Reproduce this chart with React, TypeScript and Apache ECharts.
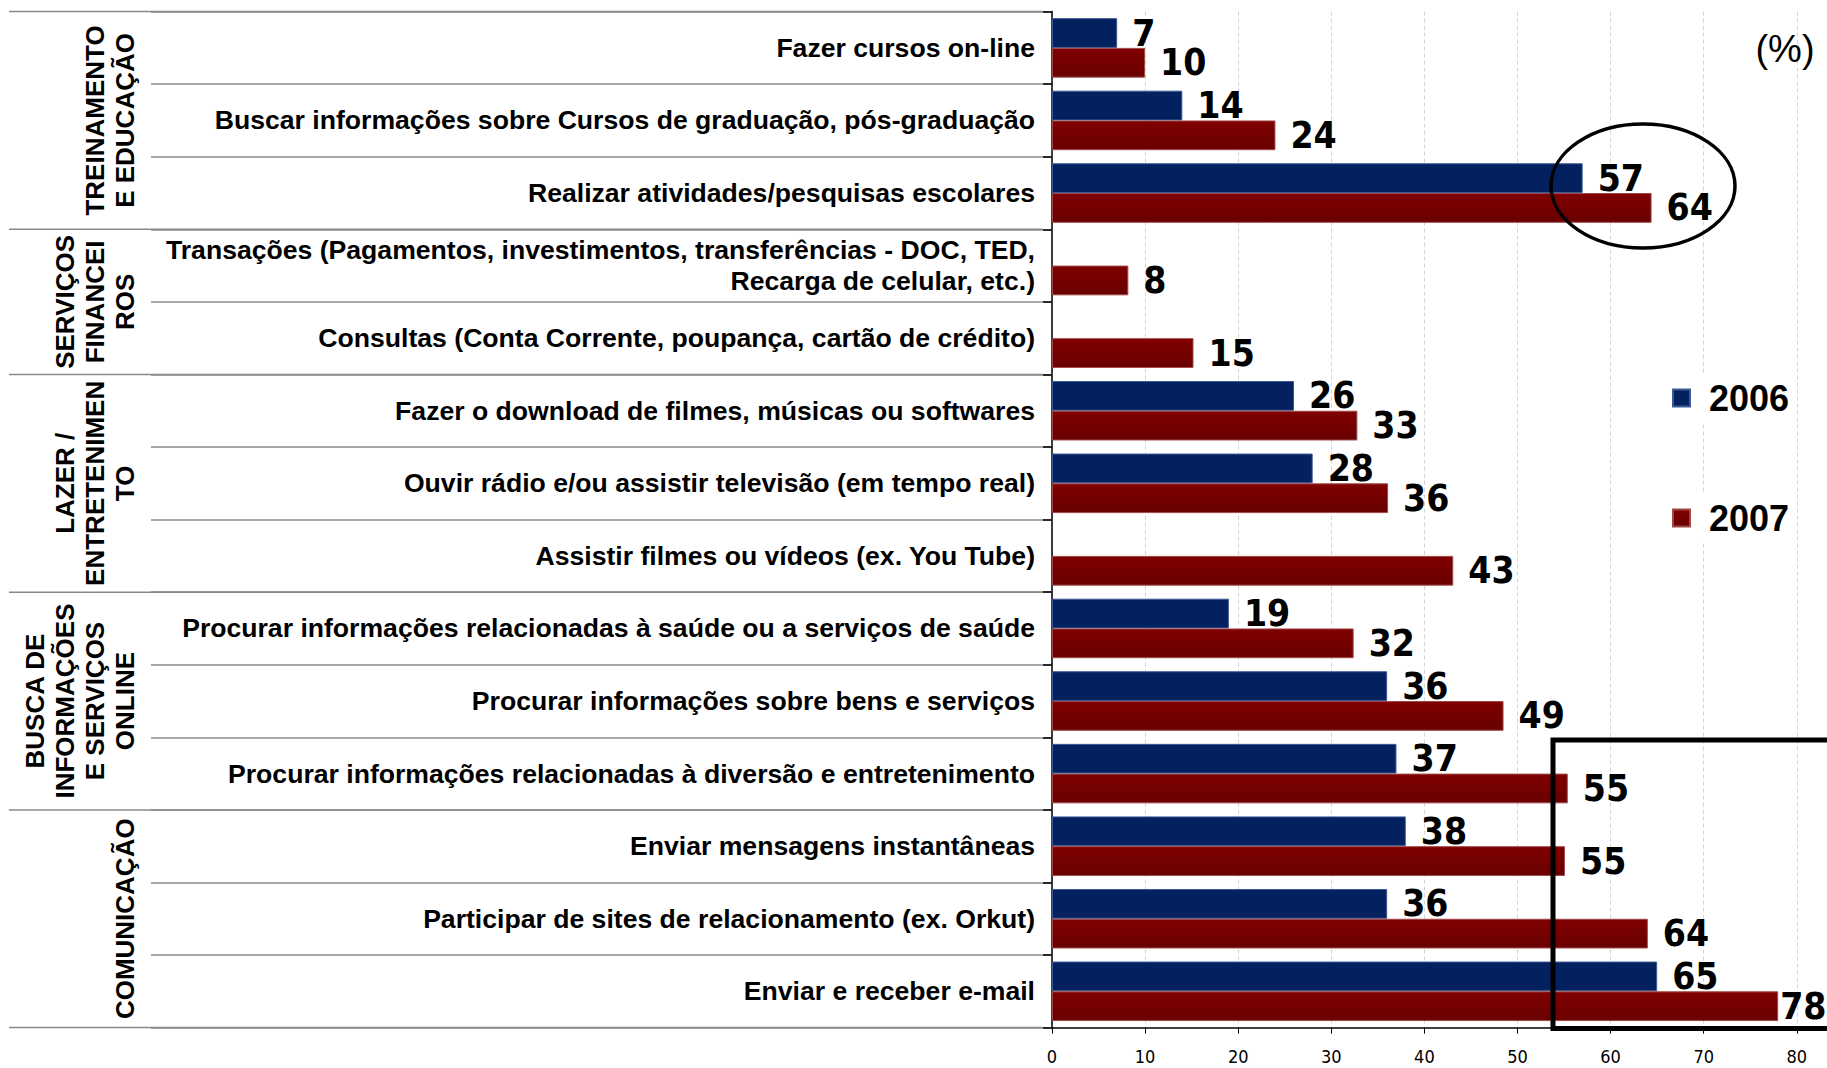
import React, { useEffect, useRef } from "react";
import * as echarts from "echarts";

const categories: string[] = [
  "Fazer cursos on-line",
  "Buscar informações sobre Cursos de graduação, pós-graduação",
  "Realizar atividades/pesquisas escolares",
  "Transações (Pagamentos, investimentos, transferências - DOC, TED,\nRecarga de celular, etc.)",
  "Consultas (Conta Corrente, poupança, cartão de crédito)",
  "Fazer o download de filmes, músicas ou softwares",
  "Ouvir rádio e/ou assistir televisão (em tempo real)",
  "Assistir filmes ou vídeos (ex. You Tube)",
  "Procurar informações relacionadas à saúde ou a serviços de saúde",
  "Procurar informações sobre bens e serviços",
  "Procurar informações relacionadas à diversão e entretenimento",
  "Enviar mensagens instantâneas",
  "Participar de sites de relacionamento (ex. Orkut)",
  "Enviar e receber e-mail",
];

const values2006: (number | null)[] = [7, 14, 57, null, null, 26, 28, null, 19, 36, 37, 38, 36, 65];
const values2007: (number | null)[] = [10, 24, 64.4, 8.2, 15.2, 32.8, 36.1, 43.1, 32.4, 48.5, 55.4, 55.1, 64, 78];

const groupNames: string[] = [
  "TREINAMENTO\nE EDUCAÇÃO",
  "SERVIÇOS\nFINANCEI\nROS",
  "LAZER /\nENTRETENIMEN\nTO",
  "BUSCA DE\nINFORMAÇÕES\nE SERVIÇOS\nONLINE",
  "COMUNICAÇÃO",
];
const groupSizes: number[] = [3, 2, 3, 3, 3];

const seriesNames = ["2006", "2007"];
const xTicks = { min: 0, max: 90, interval: 10, lastShown: 80 };

const W = 1827;
const H = 1068;
const GRID_LEFT = 1052;
const GRID_TOP = 11.6;
const AXIS_Y = 1027.6;
const UNIT_PX = 9.31;
const SANS = "'Liberation Sans', Arial, Helvetica, sans-serif";
const NARROW = "'Liberation Sans Narrow', 'Arial Narrow', 'DejaVu Sans Condensed', sans-serif";

export default function App() {
  const ref = useRef<HTMLDivElement>(null);

  useEffect(() => {
    document.body.style.margin = "0";
    if (!ref.current) return;
    const chart = echarts.init(ref.current, undefined, { renderer: "svg", width: W, height: H });

    const rowH = (AXIS_Y - GRID_TOP) / categories.length;
    const gridWidth = (xTicks.max - xTicks.min) * UNIT_PX;

    const graphics: any[] = [];
    let acc = 0;
    const bounds = [0];
    groupSizes.forEach((s) => {
      acc += s;
      bounds.push(acc);
    });
    bounds.forEach((b) => {
      const y = GRID_TOP + b * rowH;
      graphics.push({
        type: "line",
        z: 50,
        shape: { x1: 9, y1: y, x2: GRID_LEFT - 9, y2: y },
        style: { stroke: "#8a8a8a", lineWidth: 1.5 },
      });
    });
    groupNames.forEach((g, i) => {
      const cy = GRID_TOP + ((bounds[i] + bounds[i + 1]) / 2) * rowH;
      graphics.push({
        type: "text",
        z: 50,
        x: 140,
        y: cy,
        rotation: Math.PI / 2,
        style: {
          text: g,
          fill: "#000",
          font: `bold 26px ${SANS}`,
          align: "center",
          verticalAlign: "bottom",
          lineHeight: 30,
        },
      });
    });
    graphics.push({
      type: "text",
      z: 50,
      x: 1785,
      y: 49,
      style: {
        text: "(%)",
        fill: "#000",
        font: `38px ${SANS}`,
        align: "center",
        verticalAlign: "middle",
      },
    });
    graphics.push({
      type: "ellipse",
      z: 100,
      shape: { cx: 1643, cy: 186, rx: 92, ry: 62 },
      style: { fill: "none", stroke: "#000", lineWidth: 3.5 },
    });
    graphics.push({
      type: "rect",
      z: 100,
      shape: { x: 1553, y: 740, width: 320, height: AXIS_Y - 740 + 1 },
      style: { fill: "none", stroke: "#000", lineWidth: 5 },
    });

    const labelCfg = {
      show: true,
      position: "right",
      distance: 15,
      color: "#000",
      fontSize: 37,
      fontWeight: "bold",
      fontFamily: NARROW,
      formatter: (p: any) => String(Math.round(p.value)),
    };

    const redGrad = new echarts.graphic.LinearGradient(0, 0, 0, 1, [
      { offset: 0, color: "#800000" },
      { offset: 1, color: "#690000" },
    ]);

    const legendBase = {
      orient: "vertical",
      left: 1668,
      padding: 4,
      itemWidth: 17,
      itemHeight: 17,
      backgroundColor: "#fff",
      icon: "rect",
      textStyle: {
        fontSize: 36,
        fontWeight: "bold",
        fontFamily: SANS,
        color: "#000",
        lineHeight: 40,
        padding: [0, 0, 0, 14],
      },
    };

    chart.setOption({
      animation: false,
      backgroundColor: "#fff",
      grid: {
        left: GRID_LEFT,
        top: GRID_TOP,
        width: gridWidth,
        height: AXIS_Y - GRID_TOP,
        containLabel: false,
        outerBoundsMode: "none",
      },
      legend: [
        { ...legendBase, data: [seriesNames[0]], top: 374 },
        { ...legendBase, data: [seriesNames[1]], top: 494 },
      ],
      xAxis: {
        type: "value",
        min: xTicks.min,
        max: xTicks.max,
        interval: xTicks.interval,
        axisLine: { show: true, lineStyle: { color: "#000", width: 1.5 } },
        axisTick: { show: true, length: 6, lineStyle: { color: "#000" } },
        axisLabel: {
          fontSize: 18,
          lineHeight: 18,
          fontFamily: NARROW,
          color: "#000",
          margin: 20,
          formatter: (v: number) => (v <= xTicks.lastShown ? String(v) : ""),
        },
        splitLine: { show: true, lineStyle: { color: "#d4d4d4", type: [4, 3], width: 1 } },
      },
      yAxis: [
        {
          type: "category",
          inverse: true,
          data: categories,
          axisLine: { show: true, lineStyle: { color: "#000", width: 1.5 } },
          axisTick: {
            show: true,
            length: GRID_LEFT - 151,
            lineStyle: { color: "#8a8a8a", width: 1.5 },
          },
          axisLabel: {
            interval: 0,
            margin: 17,
            fontSize: 26.6,
            fontWeight: "bold",
            fontFamily: SANS,
            color: "#000",
            lineHeight: 31,
          },
          splitLine: { show: false },
        },
        {
          type: "category",
          inverse: true,
          position: "left",
          data: categories,
          axisLine: { show: false },
          axisTick: { show: true, length: 9, lineStyle: { color: "#000", width: 1.5 } },
          axisLabel: { show: false },
          splitLine: { show: false },
        },
      ],
      series: [
        {
          name: seriesNames[0],
          type: "bar",
          yAxisIndex: 0,
          data: values2006,
          barGap: "0%",
          barCategoryGap: "18%",
          itemStyle: { color: "#03205F", borderColor: "#3d5a95", borderWidth: 1 },
          label: labelCfg,
        },
        {
          name: seriesNames[1],
          type: "bar",
          yAxisIndex: 0,
          data: values2007.map((v, i) =>
            i === values2007.length - 1 ? { value: v, label: { distance: 2 } } : v
          ),
          barGap: "0%",
          barCategoryGap: "18%",
          itemStyle: { color: redGrad, borderColor: "#a04848", borderWidth: 1 },
          label: labelCfg,
        },
      ],
      graphic: graphics,
    });

    return () => chart.dispose();
  }, []);

  return (
    <div
      ref={ref}
      style={{ position: "fixed", left: 0, top: 0, width: W, height: H, background: "#fff" }}
    />
  );
}
